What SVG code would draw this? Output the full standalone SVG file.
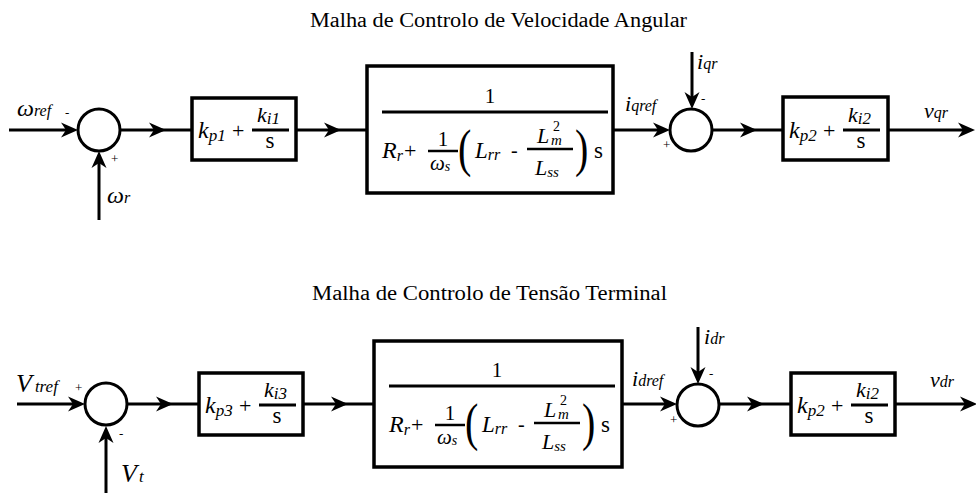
<svg xmlns="http://www.w3.org/2000/svg" width="976" height="493" viewBox="0 0 976 493">
<style>
text{font-family:'Liberation Serif','Times New Roman',serif;fill:#000}
.it{font-style:italic}
.ln{stroke:#000;stroke-width:3;fill:none}
.bx{stroke:#000;stroke-width:3.5;fill:#fff}
.sum{stroke:#000;stroke-width:3;fill:#fff}
.fl{stroke:#000;stroke-width:3}
.title{font-size:20px}
.sg{font-size:13px}
</style>
<defs>
<path id="ah" d="M0,0 L-17,-7.5 L-12,0 L-17,7.5 Z" fill="#000"/>
<g id="tf">
<text x="490" y="103" font-size="21" text-anchor="middle">1</text>
<line class="fl" x1="382" y1="112" x2="608" y2="112"/>
<text x="382" y="158" font-size="24" class="it">R<tspan font-size="16" dy="3">r</tspan></text>
<text x="404" y="158" font-size="22">+</text>
<text x="443" y="146" font-size="21" text-anchor="middle">1</text>
<line x1="428" y1="151" x2="458" y2="151" stroke="#000" stroke-width="2.5"/>
<text x="430" y="170" font-size="21" class="it">ω<tspan font-size="14" dy="1">s</tspan></text>
<text transform="translate(458,166) scale(1,1.3)" font-size="40">(</text>
<text x="475" y="158" font-size="23" class="it">L<tspan font-size="16" dy="2">rr</tspan></text>
<text x="511" y="157" font-size="20">-</text>
<line x1="527" y1="149" x2="573" y2="149" stroke="#000" stroke-width="2.5"/>
<text x="537" y="143" font-size="22" class="it">L</text>
<text x="553" y="131" font-size="14">2</text>
<text x="551" y="145" font-size="15" class="it">m</text>
<text x="535" y="175" font-size="22" class="it">L<tspan font-size="15" dy="2">ss</tspan></text>
<text transform="translate(575,166) scale(1,1.3)" font-size="40">)</text>
<text x="594" y="158" font-size="23">s</text>
</g>
</defs>

<text class="title" x="310" y="27" textLength="377" lengthAdjust="spacingAndGlyphs">Malha de Controlo de Velocidade Angular</text>
<text class="title" x="312" y="300" textLength="355" lengthAdjust="spacingAndGlyphs">Malha de Controlo de Tensão Terminal</text>

<g id="connectors">
<line class="ln" x1="9" y1="130" x2="70" y2="130"/>
<use href="#ah" transform="translate(78,130)"/>
<line class="ln" x1="99" y1="220" x2="99" y2="158"/>
<use href="#ah" transform="translate(99,151) rotate(-90)"/>
<line class="ln" x1="121" y1="130" x2="192" y2="130"/>
<use href="#ah" transform="translate(166,130)"/>
<line class="ln" x1="296" y1="130" x2="367" y2="130"/>
<use href="#ah" transform="translate(341,130)"/>
<line class="ln" x1="613" y1="130" x2="662" y2="130"/>
<use href="#ah" transform="translate(670,130)"/>
<line class="ln" x1="692" y1="52" x2="692" y2="102"/>
<use href="#ah" transform="translate(692,109) rotate(90)"/>
<line class="ln" x1="712" y1="130" x2="783" y2="130"/>
<use href="#ah" transform="translate(757,130)"/>
<line class="ln" x1="888" y1="130" x2="966" y2="130"/>
<use href="#ah" transform="translate(975,130)"/>
<line class="ln" x1="17" y1="404" x2="77" y2="404"/>
<use href="#ah" transform="translate(85,404)"/>
<line class="ln" x1="106" y1="493" x2="106" y2="433"/>
<use href="#ah" transform="translate(106,426) rotate(-90)"/>
<line class="ln" x1="127" y1="404" x2="199" y2="404"/>
<use href="#ah" transform="translate(173,404)"/>
<line class="ln" x1="303" y1="404" x2="374" y2="404"/>
<use href="#ah" transform="translate(348,404)"/>
<line class="ln" x1="621" y1="404" x2="669" y2="404"/>
<use href="#ah" transform="translate(677,404)"/>
<line class="ln" x1="698" y1="327" x2="698" y2="377"/>
<use href="#ah" transform="translate(698,384) rotate(90)"/>
<line class="ln" x1="719" y1="404" x2="791" y2="404"/>
<use href="#ah" transform="translate(764,404)"/>
<line class="ln" x1="895" y1="404" x2="968" y2="404"/>
<use href="#ah" transform="translate(977,404)"/>
</g>

<g id="labels">
<text x="17" y="116" class="it"><tspan font-size="24">ω</tspan><tspan font-size="16">ref</tspan></text>
<text x="65" y="117" class="sg">-</text>
<text x="111" y="163" class="sg">+</text>
<text x="107" y="203" class="it"><tspan font-size="24">ω</tspan><tspan font-size="16">r</tspan></text>
<text x="625" y="111" class="it"><tspan font-size="22">i</tspan><tspan font-size="16">qref</tspan></text>
<text x="697" y="69" class="it"><tspan font-size="22">i</tspan><tspan font-size="16">qr</tspan></text>
<text x="701" y="103" class="sg">-</text>
<text x="663" y="149" class="sg">+</text>
<text x="924" y="118" class="it"><tspan font-size="22">v</tspan><tspan font-size="16">qr</tspan></text>
<text x="16" y="392" class="it"><tspan font-size="26">V</tspan><tspan font-size="17" dx="3">tref</tspan></text>
<text x="75" y="392" class="sg">+</text>
<text x="119" y="438" class="sg">-</text>
<text x="121" y="482" class="it"><tspan font-size="26">V</tspan><tspan font-size="17" dx="2">t</tspan></text>
<text x="632" y="386" class="it"><tspan font-size="22">i</tspan><tspan font-size="16">dref</tspan></text>
<text x="704" y="344" class="it"><tspan font-size="22">i</tspan><tspan font-size="16">dr</tspan></text>
<text x="709" y="378" class="sg">-</text>
<text x="670" y="424" class="sg">+</text>
<text x="930" y="387" class="it"><tspan font-size="22">v</tspan><tspan font-size="16">dr</tspan></text>
</g>

<g id="sum1"><circle class="sum" cx="99" cy="130" r="21"/></g>
<g id="pi1">
<rect class="bx" x="192" y="98" width="104" height="62"/>
<text x="198" y="138" font-size="24" class="it">k<tspan font-size="17" dy="3">p1</tspan></text>
<text x="232" y="138" font-size="22">+</text>
<text x="257" y="122" font-size="22" class="it">k<tspan font-size="17" dy="2">i1</tspan></text>
<line class="fl" x1="252" y1="130" x2="289" y2="130"/>
<text x="270" y="148" font-size="23" text-anchor="middle">s</text>
</g>
<g id="tf1">
<rect class="bx" x="367" y="66" width="246" height="127"/>
<use href="#tf"/>
</g>
<g id="sum2"><circle class="sum" cx="691" cy="130" r="21"/></g>
<g id="pi2">
<rect class="bx" x="783" y="97" width="105" height="63"/>
<text x="789" y="138" font-size="24" class="it">k<tspan font-size="17" dy="3">p2</tspan></text>
<text x="823" y="138" font-size="22">+</text>
<text x="848" y="122" font-size="22" class="it">k<tspan font-size="17" dy="2">i2</tspan></text>
<line class="fl" x1="843" y1="130" x2="880" y2="130"/>
<text x="861" y="148" font-size="23" text-anchor="middle">s</text>
</g>
<g id="sum3"><circle class="sum" cx="106" cy="404" r="21"/></g>
<g id="pi3">
<rect class="bx" x="199" y="373" width="104" height="62"/>
<text x="205" y="413" font-size="24" class="it">k<tspan font-size="17" dy="3">p3</tspan></text>
<text x="239" y="413" font-size="22">+</text>
<text x="264" y="397" font-size="22" class="it">k<tspan font-size="17" dy="2">i3</tspan></text>
<line class="fl" x1="259" y1="405" x2="296" y2="405"/>
<text x="277" y="423" font-size="23" text-anchor="middle">s</text>
</g>
<g id="tf2">
<rect class="bx" x="374" y="341" width="248" height="126"/>
<use href="#tf" transform="translate(7,274)"/>
</g>
<g id="sum4"><circle class="sum" cx="698" cy="405" r="21"/></g>
<g id="pi4">
<rect class="bx" x="791" y="373" width="104" height="62"/>
<text x="797" y="413" font-size="24" class="it">k<tspan font-size="17" dy="3">p2</tspan></text>
<text x="831" y="413" font-size="22">+</text>
<text x="856" y="397" font-size="22" class="it">k<tspan font-size="17" dy="2">i2</tspan></text>
<line class="fl" x1="851" y1="405" x2="888" y2="405"/>
<text x="869" y="423" font-size="23" text-anchor="middle">s</text>
</g>
</svg>
